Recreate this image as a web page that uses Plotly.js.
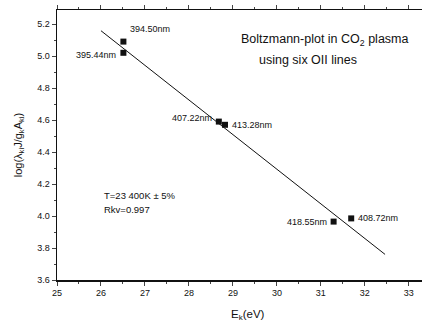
<!DOCTYPE html>
<html><head><meta charset="utf-8">
<script src="https://cdn.plot.ly/plotly-3.0.1.min.js"></script>
<style>html,body{margin:0;padding:0;background:#fff}#c{width:422px;height:327px}</style>
</head><body><div id="c"></div>
<script>
const lineLabels = ["394.50nm","395.44nm","407.22nm","413.28nm","418.55nm","408.72nm"];
const energyEk = [26.51, 26.51, 28.68, 28.82, 31.29, 31.69];
const logIntensity = [5.09, 5.02, 4.59, 4.57, 3.965, 3.985];
const fitX = [26.0, 32.46];
const fitY = [5.158, 3.76];
const labelSide = ["right","left","left","right","left","right"];
const labelDy = [-13, 2, -4, 0, 0, 0];

const font = "Liberation Sans, Arial, sans-serif";
const traces = [
  {x: fitX, y: fitY, mode: "lines", line: {color: "#111", width: 1}, hoverinfo: "skip"},
  {x: energyEk, y: logIntensity, mode: "markers", marker: {symbol: "square", size: 6, color: "#111"}}
];
const ann = lineLabels.map((t, i) => ({
  x: energyEk[i], y: logIntensity[i], xref: "x", yref: "y", text: t, showarrow: false,
  xanchor: labelSide[i] === "right" ? "left" : "right",
  xshift: labelSide[i] === "right" ? 5 : -5, yshift: -labelDy[i],
  font: {family: font, size: 9, color: "#111"}
}));
ann.push({xref: "paper", yref: "paper", x: 0.735, y: 0.925, text: "Boltzmann-plot in CO<sub>2</sub> plasma",
  showarrow: false, xanchor: "center", font: {family: font, size: 12.5, color: "#111"}});
ann.push({xref: "paper", yref: "paper", x: 0.688, y: 0.85, text: "using six OII lines",
  showarrow: false, xanchor: "center", font: {family: font, size: 12.5, color: "#111"}});
ann.push({xref: "paper", yref: "paper", x: 0.124, y: 0.285, text: "T=23 400K ± 5%",
  showarrow: false, xanchor: "left", font: {family: font, size: 9.5, color: "#111"}});
ann.push({xref: "paper", yref: "paper", x: 0.124, y: 0.233, text: "Rkv=0.997",
  showarrow: false, xanchor: "left", font: {family: font, size: 9.5, color: "#111"}});
ann.push({xref: "paper", yref: "paper", x: 0.523, y: -0.128, yanchor: "middle", text: "E<sub>k</sub>(eV)",
  showarrow: false, xanchor: "center", font: {family: font, size: 11.5, color: "#111"}});

const layout = {
  width: 422, height: 327, showlegend: false,
  paper_bgcolor: "#fff", plot_bgcolor: "#fff",
  margin: {l: 57, r: 0, t: 10, b: 47},
  font: {family: font, color: "#111"},
  xaxis: {range: [25, 33.3], dtick: 1, tick0: 25, ticks: "outside", ticklen: 4, tickwidth: 1,
    showline: true, linecolor: "#111", linewidth: 1.5, mirror: "ticks", showgrid: false, zeroline: false,
    minor: {dtick: 0.5, ticks: "outside", ticklen: 2},
    tickfont: {family: font, size: 9, color: "#111"}},
  yaxis: {range: [3.6, 5.2875], dtick: 0.2, tick0: 3.6, tickformat: ".1f", ticks: "outside", ticklen: 4, tickwidth: 1,
    showline: true, linecolor: "#111", linewidth: 1.5, showgrid: false, zeroline: false,
    minor: {dtick: 0.1, ticks: "outside", ticklen: 2},
    tickfont: {family: font, size: 9, color: "#111"},
    title: {text: "log(λ<sub>ki</sub>J/g<sub>k</sub>A<sub>ki</sub>)", font: {family: font, size: 11, color: "#111"}, standoff: 12}},
  annotations: ann
};
Plotly.newPlot("c", traces, layout, {staticPlot: true, displayModeBar: false});
</script></body></html>
